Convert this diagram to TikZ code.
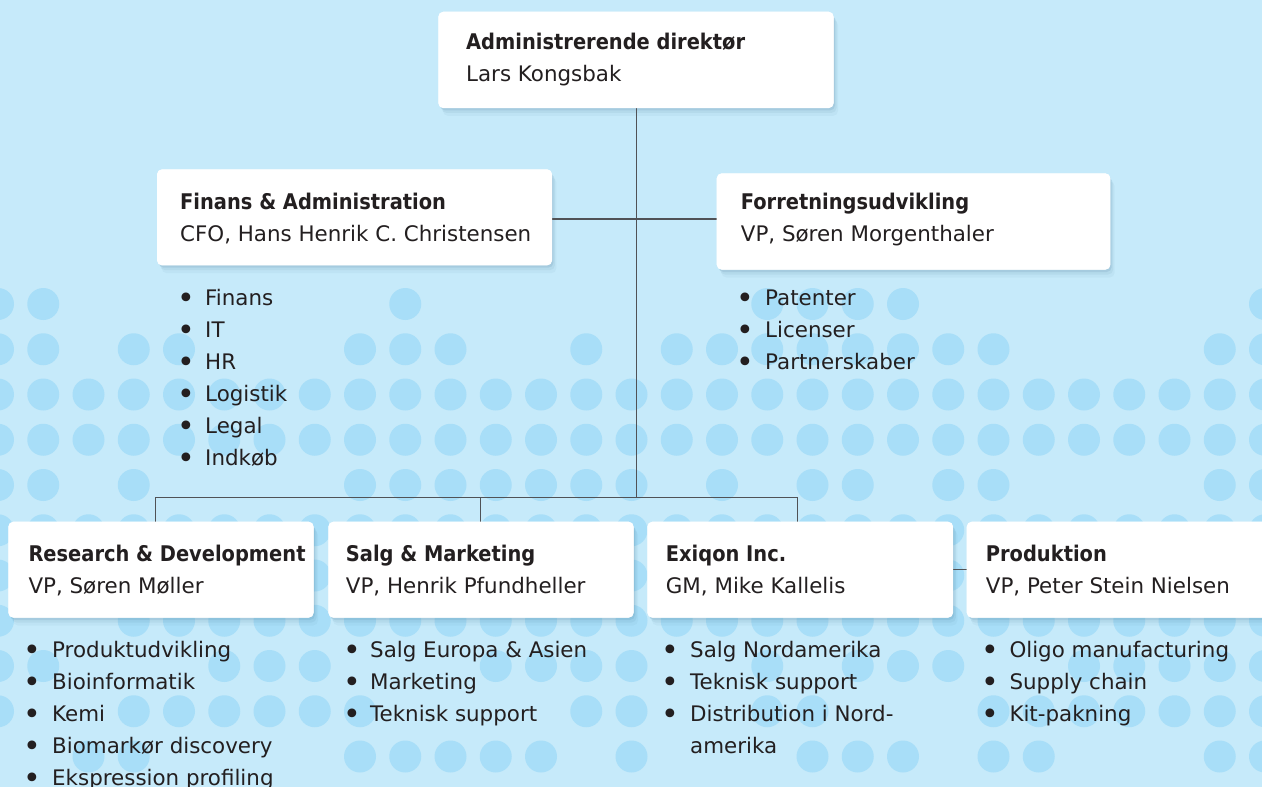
\documentclass[tikz,border=0pt]{standalone}
\usepackage{fontspec}
\setmainfont{DejaVu Sans}
\newfontfamily\titlefont{DejaVu Sans Condensed Bold}
\usetikzlibrary{shadows}
\definecolor{bgc}{RGB}{198,234,250}
\definecolor{dotc}{RGB}{168,222,248}
\definecolor{txtc}{RGB}{35,31,32}
\definecolor{linec}{RGB}{80,82,86}
\definecolor{shadc}{RGB}{60,110,140}
\newcommand\blist[5]{%
  \foreach \itm [count=\i] in {#5} {%
    \node[bul] (#1b\i) at (#2, {#4+32*(\i-1)}) {•};
    \node[sub] (#1t\i) at (#3, {#4+32*(\i-1)}) {\itm};
  }}
\begin{document}
\begin{tikzpicture}[x=1pt,y=-1pt,
  box/.style={fill=white, rounded corners=5pt, inner sep=0pt, anchor=north west, draw=none,
     drop shadow={shadow xshift=1.5pt,shadow yshift=-2.5pt,opacity=0.12,fill=shadc},
     drop shadow={shadow xshift=3pt,shadow yshift=-5pt,opacity=0.08,fill=shadc},
     drop shadow={shadow xshift=4.5pt,shadow yshift=-8pt,opacity=0.05,fill=shadc}},
  ttl/.style={anchor=base west, inner sep=0pt, text=txtc, font=\titlefont\fontsize{21.6}{25}\selectfont},
  sub/.style={anchor=base west, inner sep=0pt, text=txtc, font=\fontsize{21.4}{25}\selectfont},
  bul/.style={anchor=base, inner sep=0pt, text=txtc, yshift=-3.2pt, font=\fontsize{30}{30}\selectfont},
  conn/.style={draw=linec, line width=1.2pt}]
\useasboundingbox (0,0) rectangle (1262,787);
\clip (0,0) rectangle (1262,787);
\fill[bgc] (0,0) rectangle (1262,787);
% dot pattern
\foreach \r/\cols in {
  0/{0,1,9,17,18,19,20,28},
  1/{0,1,3,4,8,9,10,13,15,16,17,18,19,20,21,22,27,28},
  2/{0,...,28},
  3/{0,...,28},
  4/{0,1,3,8,9,10,11,12,13,14,16,18,19,21,22,27,28},
  5/{0,...,28},
  6/{0,...,28},
  7/{0,3,4,5,6,7,8,9,10,11,12,13,14,15,16,17,18,19,20,21,22,23,24,25,26,27,28},
  8/{0,1,5,6,7,11,12,13,14,17,19,20,21,24,25,26,27,28},
  9/{0,3,4,5,6,7,8,13,14,17,18,22,23,24,25,26,27,28},
  10/{2,3,8,9,10,11,12,14,18,19,20,22,23,27,28}} {
  \foreach \c in \cols {
    \fill[dotc] ({-2+45.25*\c},{304+45.25*\r}) circle (16);
  }
}
% junction coordinates
\coordinate (mid) at (636.3,219);
\coordinate (bus) at (636.3,497.3);
\coordinate (rdj) at (155.3,497.3);
\coordinate (smj) at (480.3,497.3);
\coordinate (exj) at (797.3,497.3);
% boxes
\node[box, minimum width=395pt, minimum height=96pt] (ceo) at (438.3,11.7) {};
\node[box, minimum width=394.7pt, minimum height=95.7pt] (fin) at (157,169.3) {};
\node[box, minimum width=393.3pt, minimum height=96pt] (forr) at (716.7,173.3) {};
\node[box, minimum width=305pt, minimum height=95.6pt] (rd) at (8.3,521.7) {};
\node[box, minimum width=305pt, minimum height=95.6pt] (sm) at (328.3,521.7) {};
\node[box, minimum width=305.4pt, minimum height=95.6pt] (ex) at (647.3,521.7) {};
\node[box, minimum width=320pt, minimum height=95.6pt] (prod) at (966.7,521.7) {};
% connectors
\draw[conn] (ceo.south -| bus) -- (bus);
\draw[conn] (fin.east |- mid) -- (forr.west |- mid);
\draw[conn] (rdj) -- (exj);
\draw[conn] (rdj) -- (rdj |- rd.north);
\draw[conn] (smj) -- (smj |- sm.north);
\draw[conn] (exj) -- (exj |- ex.north);
\draw[conn] (ex.east) -- (prod.west);
% redraw box faces over connector ends
\foreach \b in {ceo,fin,forr,rd,sm,ex,prod}
  \fill[white, rounded corners=5pt] (\b.north west) rectangle (\b.south east);
% box texts
\node[ttl] (ceot) at (466,49) {Administrerende direktør};
\node[sub] (ceos) at (466,81) {Lars Kongsbak};
\node[ttl] (fint) at (180,209) {Finans \& Administration};
\node[sub] (fins) at (180,241) {CFO, Hans Henrik C. Christensen};
\node[ttl] (forrt) at (740.7,209) {Forretningsudvikling};
\node[sub] (forrs) at (740.7,241) {VP, Søren Morgenthaler};
\node[ttl] (rdt) at (28.3,561) {Research \& Development};
\node[sub] (rds) at (28.3,593) {VP, Søren Møller};
\node[ttl] (smt) at (345.7,561) {Salg \& Marketing};
\node[sub] (sms) at (345.7,593) {VP, Henrik Pfundheller};
\node[ttl] (ext) at (665.7,561) {Exiqon Inc.};
\node[sub] (exs) at (665.7,593) {GM, Mike Kallelis};
\node[ttl] (prodt) at (985.7,561) {Produktion};
\node[sub] (prods) at (985.7,593) {VP, Peter Stein Nielsen};
% lists
\blist{finl}{186}{205}{305.5}{Finans,IT,HR,Logistik,Legal,Indkøb}
\blist{forl}{745.7}{765}{305.5}{Patenter,Licenser,Partnerskaber}
\blist{rdl}{32}{52}{657}{Produktudvikling,Bioinformatik,Kemi,Biomarkør discovery,Ekspression profiling}
\blist{sml}{352}{370}{657}{Salg Europa \& Asien,Marketing,Teknisk support}
\blist{exl}{670}{690}{657}{Salg Nordamerika,Teknisk support,Distribution i Nord-}
\node[sub] (exl4) at (690,753) {amerika};
\blist{prl}{990.4}{1009.3}{657}{Oligo manufacturing,Supply chain,Kit-pakning}
\end{tikzpicture}
\end{document}
